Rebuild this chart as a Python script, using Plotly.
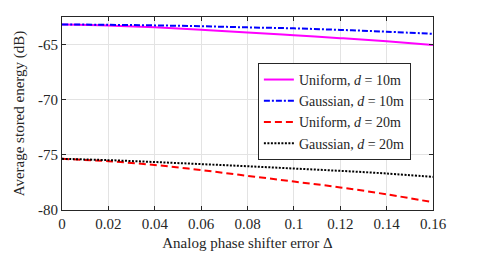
import plotly.graph_objects as go

delta = [0, 0.02, 0.04, 0.06, 0.08, 0.10, 0.12, 0.14, 0.16]
uniform_10 = [-63.19, -63.28, -63.44, -63.65, -63.90, -64.16, -64.42, -64.70, -65.03]
gaussian_10 = [-63.17, -63.21, -63.26, -63.34, -63.44, -63.53, -63.67, -63.83, -64.03]
uniform_20 = [-75.36, -75.58, -75.92, -76.38, -76.90, -77.42, -77.95, -78.58, -79.30]
gaussian_20 = [-75.36, -75.48, -75.65, -75.84, -76.03, -76.24, -76.45, -76.69, -77.00]

names = ["Uniform, <i>d</i> = 10m", "Gaussian, <i>d</i> = 10m",
         "Uniform, <i>d</i> = 20m", "Gaussian, <i>d</i> = 20m"]
series = [uniform_10, gaussian_10, uniform_20, gaussian_20]
colors = ["#ff00ff", "#0000ff", "#ff0000", "#000000"]
dashes = ["solid", "6px,2px,2px,2px", "7px,4px", "2px,1.5px"]

FONT = "Liberation Serif, Times New Roman, serif"

fig = go.Figure()
for n, s, c, d in zip(names, series, colors, dashes):
    fig.add_trace(go.Scatter(x=delta, y=s, mode="lines", name=n,
                             line=dict(color=c, width=2, dash=d, shape="spline")))

axis_common = dict(showline=True, linecolor="#262626", linewidth=1, mirror="ticks",
                   ticks="inside", ticklen=4, tickcolor="#262626",
                   showgrid=True, gridcolor="#e3e3e3", gridwidth=1, zeroline=False,
                   automargin=False,
                   tickfont=dict(family=FONT, size=15, color="#262626"))

fig.update_layout(
    width=478, height=256,
    margin=dict(l=54, r=53, t=9, b=54),
    paper_bgcolor="white", plot_bgcolor="white",
    font=dict(family=FONT, color="#262626"),
    xaxis=dict(range=[0, 0.16], tickvals=[0, 0.02, 0.04, 0.06, 0.08, 0.1, 0.12, 0.14, 0.16],
               ticktext=["0", "0.02", "0.04", "0.06", "0.08", "0.1", "0.12", "0.14", "0.16"],
               title=dict(text="Analog phase shifter error Δ", font=dict(family=FONT, size=15),
                          standoff=6),
               **axis_common),
    yaxis=dict(range=[-80, -62.5], tickvals=[-80, -75, -70, -65],
               ticktext=["-80", "-75", "-70", "-65"],
               title=dict(text="Average stored energy (dB)", font=dict(family=FONT, size=15),
                          standoff=9),
               **axis_common),
    legend=dict(x=0.528, y=0.762, xanchor="left", yanchor="top",
                bgcolor="white", bordercolor="#262626", borderwidth=1,
                font=dict(family=FONT, size=14, color="#262626"),
                itemwidth=30, tracegroupgap=0),
    showlegend=True,
)

fig.write_html("out.html")
